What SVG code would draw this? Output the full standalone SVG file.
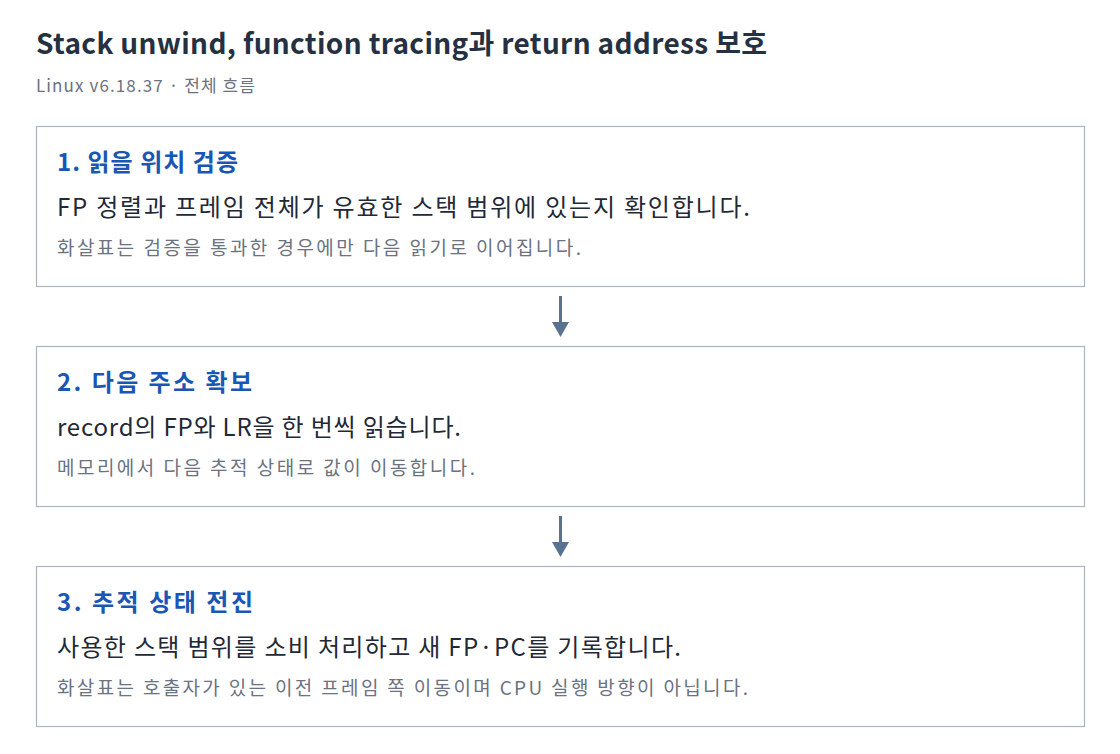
<svg xmlns="http://www.w3.org/2000/svg" width="1120" height="754" viewBox="0 0 1120 754">
<style>
text{font-family:"Noto Sans CJK KR","Noto Sans",sans-serif}
.title{font-size:28px;font-weight:700;fill:#253142}
.sub{font-size:17px;fill:#6b7280}
.box{fill:#ffffff;stroke:#aab4c3;stroke-width:1.2}
.h{font-size:24px;font-weight:700;fill:#1a56b4}
.b{font-size:24px;fill:#1f2937}
.n{font-size:19px;fill:#6b7280}
.conn{stroke:#587391;stroke-width:3;fill:none}
.head{fill:#587391}
</style>
<rect width="1120" height="754" fill="#ffffff"/>
<text class="title" x="36" y="54" textLength="731">Stack unwind, function tracing과 return address 보호</text>
<text class="sub" x="36" y="92" textLength="219">Linux v6.18.37 · 전체 흐름</text>
<g id="node1">
<rect class="box" x="36.5" y="126.5" width="1048" height="160"/>
<text class="h" x="57" y="171" textLength="181">1. 읽을 위치 검증</text>
<text class="b" x="57" y="216" textLength="693">FP 정렬과 프레임 전체가 유효한 스택 범위에 있는지 확인합니다.</text>
<text class="n" x="57" y="255" textLength="524">화살표는 검증을 통과한 경우에만 다음 읽기로 이어집니다.</text>
</g>
<g id="node2">
<rect class="box" x="36.5" y="346.5" width="1048" height="160"/>
<text class="h" x="57" y="391" textLength="195">2. 다음 주소 확보</text>
<text class="b" x="57" y="436" textLength="404">record의 FP와 LR을 한 번씩 읽습니다.</text>
<text class="n" x="57" y="475" textLength="418">메모리에서 다음 추적 상태로 값이 이동합니다.</text>
</g>
<g id="node3">
<rect class="box" x="36.5" y="566.5" width="1048" height="160"/>
<text class="h" x="57" y="611" textLength="196">3. 추적 상태 전진</text>
<text class="b" x="57" y="656" textLength="624">사용한 스택 범위를 소비 처리하고 새 FP·PC를 기록합니다.</text>
<text class="n" x="57" y="695" textLength="691">화살표는 호출자가 있는 이전 프레임 쪽 이동이며 CPU 실행 방향이 아닙니다.</text>
</g>
<g id="connectors">
<line class="conn" x1="560.5" y1="296" x2="560.5" y2="323"/>
<polygon class="head" points="552,322 569,322 560.5,337"/>
<line class="conn" x1="560.5" y1="516" x2="560.5" y2="543"/>
<polygon class="head" points="552,542 569,542 560.5,557"/>
</g>
</svg>
